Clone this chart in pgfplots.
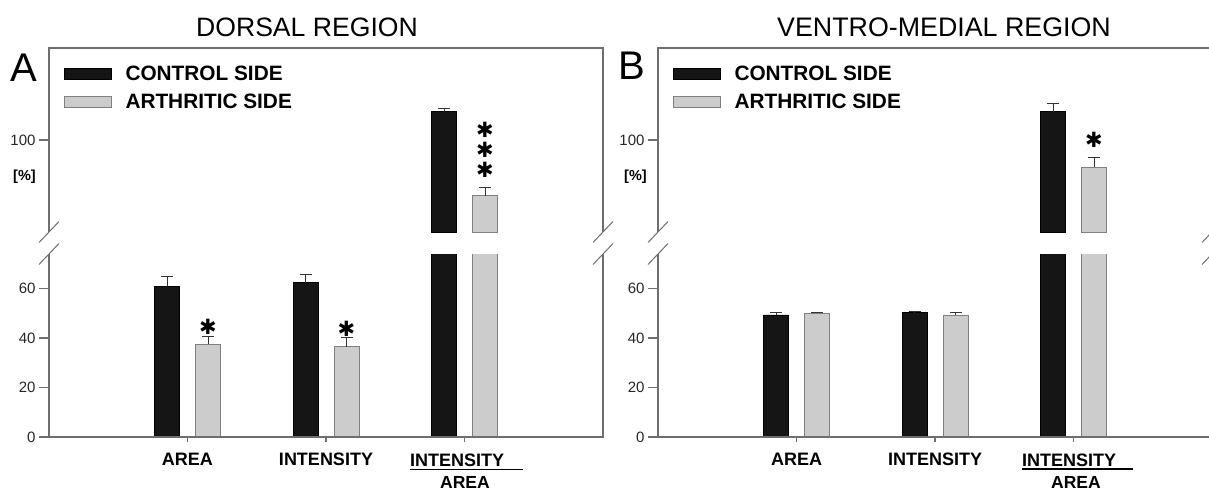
\documentclass[border=0pt]{standalone}
\usepackage{pgfplots}
\pgfplotsset{compat=1.18}
\usepackage{fontspec}
\setmainfont{Liberation Sans}
\newfontfamily\dejavu{DejaVu Sans}
\definecolor{ctrl}{RGB}{21,21,21}
\definecolor{arth}{RGB}{204,204,204}
\definecolor{arthedge}{RGB}{128,128,128}
\definecolor{axgray}{RGB}{110,110,110}
\pgfplotsset{
  brk/.style={
    scale only axis, width=554pt, xmin=-1, xmax=3,
    axis line style={draw=none},
    clip=true,
    tick align=outside,
    ytick pos=left, xtick pos=bottom,
    major tick length=10pt,
    tick style={axgray, line width=1.2pt},
    xtick style={/pgfplots/major tick length=5pt},
    /pgf/number format/assume math mode=true,
    ticklabel style={font=\fontsize{15}{16}\selectfont, text=black!85},
    yticklabel style={anchor=east},
    xticklabel style={font=\bfseries\fontsize{18}{20}\selectfont, text=black, anchor=base, yshift=-18pt},
  },
  ctrlbar/.style={ybar, bar width=25pt, fill=ctrl, draw=black, line width=0.8pt, bar shift=0pt,
    legend image code/.code={\draw[fill=ctrl, draw=black, line width=0.8pt] (0pt,1pt) rectangle (47pt,12pt);}},
  arthbar/.style={ybar, bar width=25pt, fill=arth, draw=arthedge, line width=1pt, bar shift=0pt,
    legend image code/.code={\draw[fill=arth, draw=arthedge, line width=1pt] (0pt,1pt) rectangle (47pt,12pt);}},
  eb/.style={/pgfplots/error bars/y dir=plus, /pgfplots/error bars/y explicit,
    /pgfplots/error bars/error bar style={black!80, line width=1pt},
    /pgfplots/error bars/error mark options={rotate=90, black!80, mark size=6pt, line width=1pt}},
  leg/.style={legend style={at={(0,1)}, anchor=north west, xshift=14.5pt, yshift=-18.1pt,
    draw=none, fill=none, inner sep=0pt, outer sep=0pt, row sep=12.1pt,
    font=\bfseries\fontsize{20.8}{22}\selectfont,
    nodes={inner sep=0pt, anchor=base west},
    /tikz/every odd column/.append style={column sep=14pt}},
    legend cell align=left},
}
\tikzset{
  frame/.style={draw=axgray, line width=1.6pt},
  brkmark/.style={draw=axgray, line width=1pt},
  star/.style={font=\dejavu\bfseries\fontsize{21}{21}\selectfont, inner sep=0pt},
}
\begin{document}
\begin{tikzpicture}[x=1pt,y=1pt]
\useasboundingbox (0,0) rectangle (1209,491);

% ---------- Panel A ----------
\begin{axis}[brk, name=lowA, at={(49pt,54pt)}, anchor=south west, height=183pt,
  ymin=0, ymax=73.94, xtick={0,1,2}, xticklabels={AREA,INTENSITY,{}}, ytick={0,20,40,60}]
\addplot[ctrlbar, eb] coordinates {(-0.148,61.0) +- (0,3.8) (0.852,62.4) +- (0,3.2) (1.852,111.4) +- (0,1.4)};
\addplot[arthbar, eb] coordinates {(0.148,37.4) +- (0,3.4) (1.148,36.5) +- (0,3.6) (2.148,77.4) +- (0,3.3)};
\node[star] at (axis cs:0.148,44.6) {✱};
\node[star] at (axis cs:1.148,43.8) {✱};
\end{axis}
\begin{axis}[brk, name=upA, at={(49pt,259pt)}, anchor=south west, height=184pt,
  ymin=62.83, ymax=137.17, xtick=\empty, ytick={100}, leg]
\addplot[ctrlbar, eb] coordinates {(1.852,111.4) +- (0,1.4)};
\addplot[arthbar, eb] coordinates {(2.148,77.4) +- (0,3.3)};
\legend{CONTROL SIDE, ARTHRITIC SIDE}
\node[star] at (axis cs:2.148,104.0) {✱};
\node[star] at (axis cs:2.148,95.9) {✱};
\node[star] at (axis cs:2.148,87.9) {✱};
\end{axis}

% ---------- Panel B ----------
\begin{axis}[brk, name=lowB, at={(658pt,54pt)}, anchor=south west, height=183pt,
  ymin=0, ymax=73.94, xtick={0,1,2}, xticklabels={AREA,INTENSITY,{}}, ytick={0,20,40,60}]
\addplot[ctrlbar, eb] coordinates {(-0.148,49.3) +- (0,1.2) (0.852,50.2) +- (0,0.7) (1.852,111.4) +- (0,3.4)};
\addplot[arthbar, eb] coordinates {(0.148,50.1) +- (0,0.4) (1.148,49.1) +- (0,1.1) (2.148,89.0) +- (0,3.8)};
\end{axis}
\begin{axis}[brk, name=upB, at={(658pt,259pt)}, anchor=south west, height=184pt,
  ymin=62.83, ymax=137.17, xtick=\empty, ytick={100}, leg]
\addplot[ctrlbar, eb] coordinates {(1.852,111.4) +- (0,3.4)};
\addplot[arthbar, eb] coordinates {(2.148,89.0) +- (0,3.8)};
\legend{CONTROL SIDE, ARTHRITIC SIDE}
\node[star] at (axis cs:2.148,100.0) {✱};
\end{axis}

% ---------- frames with breaks ----------
\foreach \p in {A,B}{
  \draw[frame] (low\p.north west) -- (low\p.south west) -- (low\p.south east) -- (low\p.north east);
  \draw[frame] (up\p.south west) -- (up\p.north west) -- (up\p.north east) -- (up\p.south east);
  \foreach \c in {low\p.north west, low\p.north east, up\p.south west, up\p.south east}{
    \draw[brkmark, shift={(\c)}] (-10pt,-10.5pt) -- (10pt,10.5pt);
  }
}

% ---------- titles and labels ----------
\node[anchor=base, font=\fontsize{26.6}{30}\selectfont] at (307,454) {DORSAL REGION};
\node[anchor=base, font=\fontsize{26.8}{30}\selectfont] at (944,454) {VENTRO-MEDIAL REGION};
\node[anchor=base, font=\fontsize{40}{44}\selectfont] at (23.5,409) {A};
\node[anchor=base, font=\fontsize{40}{44}\selectfont] at (631.5,411) {B};
\node[font=\bfseries\fontsize{14.5}{16}\selectfont] at (24.5,314) {[\%]};
\node[font=\bfseries\fontsize{14.5}{16}\selectfont] at (635.5,314) {[\%]};

% fraction labels
\node[anchor=base west, inner sep=0pt, font=\bfseries\fontsize{18}{20}\selectfont] at (410,25) {INTENSITY};
\draw[black, line width=1.6pt] (410,21.5) -- (523,21.5);
\node[anchor=base, inner sep=0pt, font=\bfseries\fontsize{17.5}{19}\selectfont] at (465,2.2) {AREA};
\node[anchor=base west, inner sep=0pt, font=\bfseries\fontsize{18}{20}\selectfont] at (1022,25) {INTENSITY};
\draw[black, line width=1.6pt] (1022,22) -- (1133,22);
\node[anchor=base, inner sep=0pt, font=\bfseries\fontsize{17.5}{19}\selectfont] at (1076,2.2) {AREA};
\end{tikzpicture}
\end{document}
